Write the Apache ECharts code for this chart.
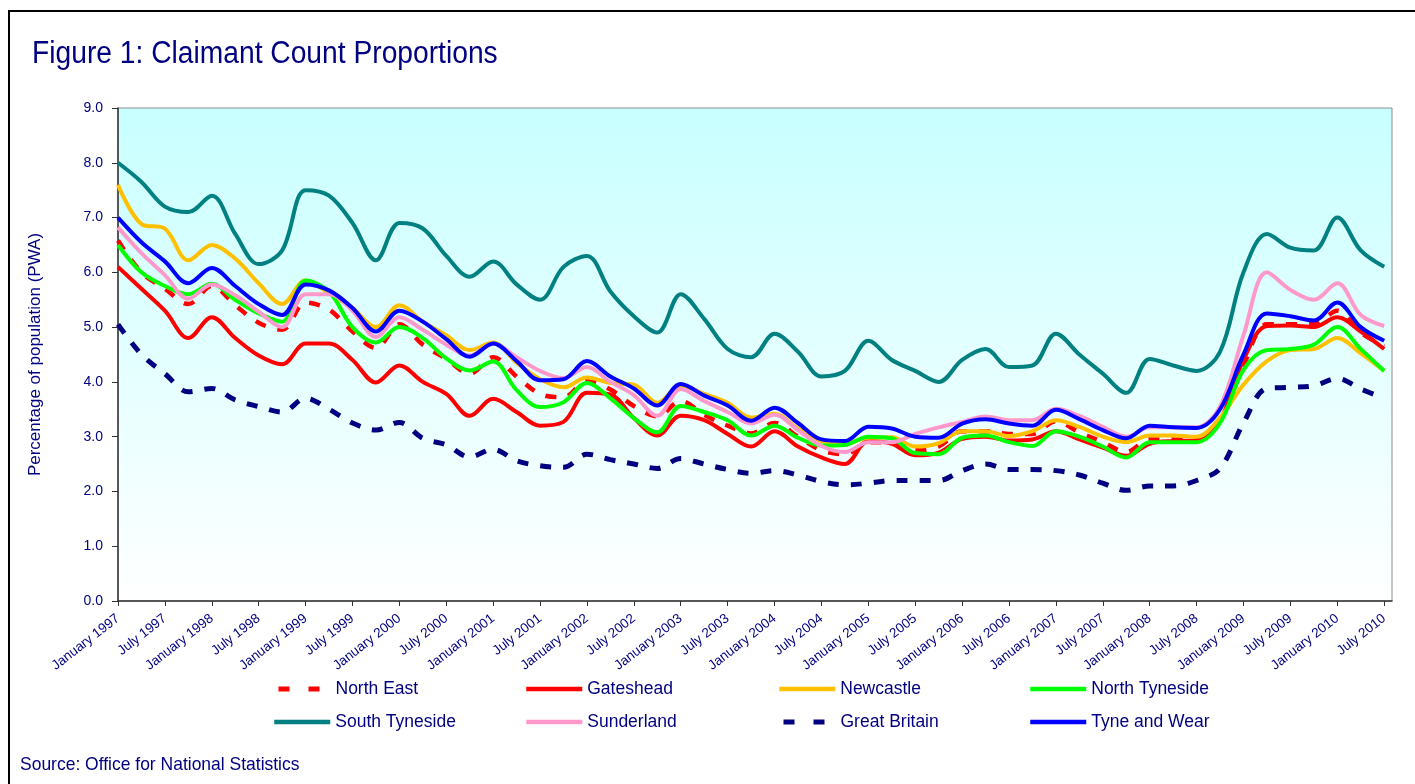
<!DOCTYPE html>
<html>
<head>
<meta charset="utf-8">
<script src="https://cdn.jsdelivr.net/npm/echarts@6/dist/echarts.min.js"></script>
<style>
html,body{margin:0;padding:0;background:#ffffff;}
#chart{width:1415px;height:784px;}
</style>
</head>
<body>
<div id="chart"></div>
<script>
// Month index (0 = January 1997) of each sampled point
const months = [0,3,6,9,12,15,18,21,24,27,30,33,36,39,42,45,48,51,54,57,60,63,66,69,72,75,78,81,84,87,90,93,96,99,102,105,108,111,114,117,120,123,126,129,132,135,138,141,144,147,150,153,156,159,162];

const tickLabels = ["January 1997","July 1997","January 1998","July 1998","January 1999","July 1999","January 2000","July 2000","January 2001","July 2001","January 2002","July 2002","January 2003","July 2003","January 2004","July 2004","January 2005","July 2005","January 2006","July 2006","January 2007","July 2007","January 2008","July 2008","January 2009","July 2009","January 2010","July 2010"];

const northEast = [6.58,6.0,5.7,5.42,5.75,5.4,5.08,4.95,5.45,5.32,4.92,4.62,5.05,4.68,4.42,4.15,4.45,4.1,3.78,3.72,4.02,3.86,3.56,3.37,3.65,3.4,3.2,3.06,3.25,3.0,2.75,2.68,2.9,2.88,2.75,2.82,3.1,3.1,3.05,3.05,3.28,3.08,2.9,2.72,2.95,2.95,2.95,3.3,4.3,5.05,5.05,5.05,5.3,4.9,4.65];
const gateshead = [6.1,5.7,5.3,4.8,5.18,4.8,4.48,4.32,4.7,4.7,4.4,3.99,4.3,4.0,3.78,3.38,3.69,3.45,3.2,3.27,3.8,3.77,3.34,3.02,3.38,3.3,3.05,2.82,3.1,2.82,2.62,2.5,2.92,2.87,2.66,2.71,2.96,3.0,2.93,2.95,3.1,2.95,2.8,2.65,2.87,2.92,2.93,3.3,4.4,5.02,5.03,5.0,5.18,4.92,4.6];
const newcastle = [7.6,6.88,6.8,6.22,6.5,6.25,5.8,5.42,5.85,5.62,5.35,5.0,5.4,5.1,4.85,4.58,4.72,4.35,4.05,3.9,4.08,3.98,3.95,3.62,3.93,3.78,3.62,3.35,3.42,3.15,2.92,2.88,2.98,2.99,2.82,2.88,3.1,3.1,3.01,3.1,3.3,3.18,3.0,2.9,3.02,3.02,3.0,3.35,3.95,4.38,4.58,4.6,4.8,4.52,4.2];
const northTyneside = [6.5,6.0,5.75,5.6,5.79,5.5,5.25,5.1,5.85,5.65,5.0,4.72,5.0,4.8,4.43,4.21,4.37,3.85,3.54,3.63,3.98,3.7,3.34,3.08,3.56,3.45,3.3,3.02,3.2,2.98,2.84,2.85,3.0,2.97,2.7,2.68,2.98,3.02,2.9,2.83,3.1,3.0,2.82,2.62,2.9,2.9,2.9,3.25,4.22,4.58,4.6,4.68,5.0,4.6,4.2];
const southTyneside = [8.0,7.65,7.2,7.1,7.4,6.7,6.15,6.4,7.5,7.4,6.9,6.22,6.9,6.8,6.3,5.92,6.2,5.78,5.5,6.1,6.3,5.65,5.2,4.9,5.6,5.15,4.6,4.45,4.88,4.55,4.1,4.2,4.75,4.4,4.2,4.0,4.4,4.6,4.27,4.3,4.88,4.5,4.15,3.8,4.42,4.3,4.2,4.55,6.0,6.7,6.45,6.4,7.0,6.4,6.1];
const sunderland = [6.82,6.35,5.95,5.52,5.78,5.58,5.28,5.0,5.6,5.6,5.3,4.82,5.18,4.95,4.68,4.48,4.7,4.45,4.2,4.07,4.27,4.0,3.76,3.38,3.87,3.65,3.45,3.24,3.4,3.12,2.83,2.72,2.9,2.9,3.05,3.17,3.27,3.37,3.3,3.3,3.51,3.38,3.18,3.0,3.17,3.17,3.17,3.55,4.85,6.0,5.68,5.5,5.8,5.22,5.02];
const greatBritain = [5.05,4.5,4.15,3.82,3.88,3.67,3.55,3.45,3.7,3.5,3.25,3.12,3.26,2.97,2.85,2.63,2.77,2.56,2.47,2.44,2.68,2.58,2.5,2.42,2.6,2.5,2.4,2.33,2.38,2.3,2.18,2.12,2.15,2.2,2.2,2.2,2.38,2.5,2.4,2.4,2.38,2.3,2.15,2.02,2.1,2.1,2.2,2.42,3.25,3.88,3.9,3.93,4.06,3.87,3.7];
const tyneAndWear = [7.0,6.55,6.2,5.8,6.08,5.75,5.42,5.22,5.78,5.67,5.35,4.92,5.3,5.1,4.78,4.46,4.7,4.38,4.03,4.05,4.38,4.1,3.88,3.57,3.96,3.75,3.57,3.29,3.53,3.25,2.95,2.92,3.18,3.15,3.0,2.98,3.24,3.32,3.24,3.2,3.49,3.32,3.12,2.97,3.2,3.17,3.16,3.5,4.5,5.25,5.2,5.12,5.45,5.0,4.75];

const NAVY = '#000080';
const FONT = "'Liberation Sans', Arial, sans-serif";

const seriesDefs = [
  {name:'North East', data:northEast, color:'#FF0000', dashed:true, width:4.5},
  {name:'Gateshead', data:gateshead, color:'#FF0000', dashed:false, width:4},
  {name:'Newcastle', data:newcastle, color:'#FFC000', dashed:false, width:4},
  {name:'North Tyneside', data:northTyneside, color:'#00FF00', dashed:false, width:4},
  {name:'South Tyneside', data:southTyneside, color:'#008080', dashed:false, width:4},
  {name:'Sunderland', data:sunderland, color:'#FF99CC', dashed:false, width:4},
  {name:'Great Britain', data:greatBritain, color:'#000080', dashed:true, width:5},
  {name:'Tyne and Wear', data:tyneAndWear, color:'#0000FF', dashed:false, width:4}
];

const legendPos = [[272,680],[524,680],[777,680],[1028,680],[272,713],[524,713],[777,713],[1028,713]];
const tickMonths = tickLabels.map((_, i) => i * 6);

const chart = echarts.init(document.getElementById('chart'), null, {renderer:'canvas'});

const option = {
  animation: false,
  backgroundColor: '#ffffff',
  textStyle: {fontFamily: FONT},
  grid: {
    left: 118, right: 23, top: 108, bottom: 183,
    show: true,
    backgroundColor: new echarts.graphic.LinearGradient(0, 0, 0, 1, [
      {offset: 0, color: '#C8FFFF'},
      {offset: 1, color: '#FFFFFF'}
    ]),
    borderColor: '#8c8c8c',
    borderWidth: 1
  },
  xAxis: {
    type: 'value',
    min: 0, max: 163, interval: 6,
    axisLine: {show: true, onZero: false, lineStyle: {color: '#333333', width: 1.5}},
    axisTick: {show: true, customValues: tickMonths, length: 5, lineStyle: {color: '#333333', width: 1}},
    axisLabel: {
      customValues: tickMonths,
      rotate: 38, margin: 16,
      fontSize: 13.5, color: NAVY, fontFamily: FONT,
      formatter: v => (v % 6 === 0 && tickLabels[v / 6]) ? tickLabels[v / 6] : ''
    },
    splitLine: {show: false}
  },
  yAxis: {
    type: 'value',
    min: 0, max: 9, interval: 1,
    name: 'Percentage of population (PWA)',
    nameLocation: 'middle', nameGap: 74,
    nameTextStyle: {fontSize: 17, color: NAVY, fontFamily: FONT},
    axisLine: {show: true, lineStyle: {color: '#333333', width: 1.5}},
    axisTick: {show: true, length: 6, lineStyle: {color: '#333333'}},
    axisLabel: {fontSize: 14, color: NAVY, margin: 15, fontFamily: FONT, formatter: v => v.toFixed(1)},
    splitLine: {show: false}
  },
  legend: seriesDefs.map((s, i) => ({
    data: [s.name],
    left: legendPos[i][0], top: legendPos[i][1],
    padding: 0,
    itemWidth: 56, itemHeight: 12,
    itemStyle: {opacity: 0},
    lineStyle: {width: s.dashed ? 5 : 4.5, type: s.dashed ? [11, 19] : 'solid', dashOffset: -4, cap: 'butt'},
    textStyle: {fontSize: 17.5, color: NAVY, fontFamily: FONT},
    selectedMode: false
  })),
  series: seriesDefs.map(s => ({
    name: s.name,
    type: 'line',
    data: s.data.map((v, i) => [months[i], v]),
    smooth: 0.35,
    symbol: 'none',
    showSymbol: false,
    color: s.color,
    lineStyle: {color: s.color, width: s.width, type: s.dashed ? [11, 12] : 'solid', cap: 'butt'}
  })),
  graphic: [
    {type: 'rect', silent: true, shape: {x: 9, y: 11, width: 1440, height: 800},
     style: {fill: 'none', stroke: '#000000', lineWidth: 2}},
    {type: 'text', silent: true, x: 32, y: 54, scaleX: 0.91,
     style: {text: 'Figure 1: Claimant Count Proportions', fontSize: 31, fontFamily: FONT, fill: NAVY, verticalAlign: 'middle', align: 'left'}},
    {type: 'text', silent: true, x: 20, y: 765, scaleX: 0.92,
     style: {text: 'Source: Office for National Statistics', fontSize: 19, fontFamily: FONT, fill: NAVY, verticalAlign: 'middle', align: 'left'}}
  ]
};

chart.setOption(option);
</script>
</body>
</html>
